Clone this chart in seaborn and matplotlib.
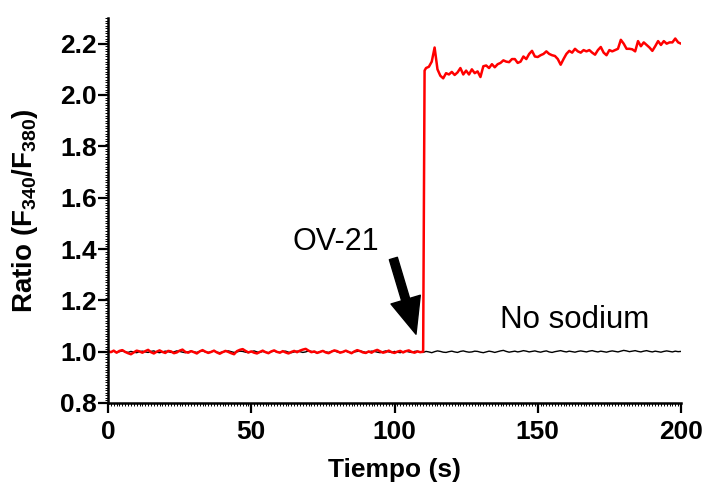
import numpy as np
import pandas as pd
import matplotlib
matplotlib.use("Agg")
import matplotlib.pyplot as plt
from matplotlib.ticker import MultipleLocator
import seaborn as sns

# ---------------- data ----------------
red_base = [
    1.002, 0.998, 1.004, 0.996, 1.003, 1.006, 0.999, 0.994, 0.990, 0.997,
    1.004, 1.001, 0.996, 1.002, 1.007, 0.998, 0.993, 1.000, 1.005, 0.999,
    0.995, 1.003, 1.001, 0.994, 0.997, 1.004, 1.008, 0.999, 0.996, 1.002,
    0.998, 0.993, 1.001, 1.006, 1.000, 0.995, 0.999, 1.004, 0.997, 0.992,
    0.998, 1.003, 0.999, 0.994, 0.990, 1.002, 1.007, 1.010, 1.003, 0.997,
    1.001, 0.996, 0.993, 0.999, 1.004, 0.998, 0.994, 1.001, 1.005, 0.999,
    0.996, 1.002, 0.997, 0.993, 0.999, 1.003, 0.998, 1.004, 1.008, 1.011,
    1.004, 0.998, 1.001, 0.995, 0.999, 1.003, 0.997, 0.994, 1.000, 1.005,
    1.002, 0.996, 0.999, 1.004, 0.999, 0.994, 1.001, 1.006, 1.002, 0.997,
    0.995, 1.001, 0.996, 1.003, 1.007, 1.001, 0.996, 0.999, 1.004, 0.998,
    0.995, 1.000, 1.003, 0.997, 1.002, 1.005, 0.999, 0.996, 1.001, 0.998,
    1.000,
]
red_jump_time = [110.5]
red_jump_value = [2.095]
red_high = [
    2.105, 2.110, 2.130, 2.185, 2.100, 2.075, 2.065, 2.085, 2.080, 2.090,
    2.078, 2.088, 2.105, 2.080, 2.095, 2.080, 2.100, 2.085, 2.092, 2.070,
    2.112, 2.115, 2.105, 2.120, 2.108, 2.120, 2.125, 2.135, 2.130, 2.128,
    2.140, 2.140, 2.125, 2.130, 2.150, 2.140, 2.160, 2.172, 2.150, 2.148,
    2.155, 2.160, 2.170, 2.160, 2.155, 2.152, 2.140, 2.118, 2.140, 2.160,
    2.172, 2.165, 2.180, 2.170, 2.165, 2.175, 2.170, 2.175, 2.165, 2.157,
    2.175, 2.187, 2.165, 2.155, 2.175, 2.170, 2.175, 2.180, 2.215, 2.200,
    2.180, 2.180, 2.178, 2.170, 2.210, 2.190, 2.205, 2.195, 2.185, 2.172,
    2.190, 2.210, 2.195, 2.210, 2.200, 2.205, 2.205, 2.220, 2.205, 2.200,
]
black_vals = [
    1.001, 0.999, 1.002, 0.998, 1.000, 1.003, 0.999, 0.997, 1.001, 0.998,
    0.996, 1.000, 1.002, 0.999, 0.997, 1.001, 1.003, 0.998, 0.996, 0.999,
    1.002, 1.000, 0.997, 0.999, 1.003, 1.001, 0.998, 0.996, 1.000, 1.002,
    0.999, 0.997, 1.001, 1.003, 0.999, 0.997, 1.000, 1.002, 0.998, 0.996,
    0.999, 1.001, 1.003, 1.000, 0.997, 0.999, 1.002, 1.001, 0.998, 0.996,
    1.000, 1.003, 0.999, 0.997, 1.001, 0.998, 0.996, 1.000, 1.002, 0.999,
    0.997, 1.001, 1.002, 0.998, 0.996, 0.999, 1.002, 1.000, 0.997, 0.999,
    1.003, 1.001, 0.998, 0.996, 1.000, 1.002, 0.999, 0.997, 1.001, 1.003,
    0.999, 0.997, 1.000, 1.002, 0.998, 0.996, 0.999, 1.001, 1.003, 1.000,
    0.997, 0.999, 1.002, 1.001, 0.998, 0.996, 1.000, 1.003, 0.999, 0.997,
    1.001, 0.998, 0.996, 1.000, 1.002, 0.999, 0.997, 1.001, 1.002, 0.998,
    0.997, 1.001, 0.999, 0.996, 1.000, 1.003, 1.001, 0.998, 0.997, 1.000,
    1.002, 0.999, 0.997, 1.001, 1.003, 1.000, 0.998, 0.999, 1.002, 1.001,
    0.998, 0.996, 0.999, 1.002, 1.000, 0.997, 1.000, 1.003, 1.005, 1.001,
    0.998, 1.000, 1.002, 0.999, 1.001, 1.004, 1.002, 0.999, 1.001, 1.003,
    1.000, 0.998, 1.001, 1.003, 0.999, 0.997, 1.000, 1.002, 1.004, 1.001,
    0.999, 1.002, 1.000, 0.998, 1.001, 1.003, 1.001, 0.999, 1.002, 1.004,
    1.001, 0.999, 1.002, 1.000, 0.998, 1.001, 1.003, 1.001, 0.999, 1.002,
    1.005, 1.003, 1.000, 1.002, 1.004, 1.001, 0.999, 1.002, 1.004, 1.001,
    0.999, 1.002, 1.000, 0.998, 1.001, 1.003, 1.001, 0.999, 1.002, 1.000,
    1.001,
]
x_ticks = [0, 50, 100, 150, 200]
y_ticks = [0.8, 1.0, 1.2, 1.4, 1.6, 1.8, 2.0, 2.2]
x_label = "Tiempo (s)"
y_label = r"Ratio (F$_{340}$/F$_{380}$)"
label_ov = "OV-21"
label_ns = "No sodium"

# ---------------- frames ----------------
black_time = list(range(len(black_vals)))
red_time = list(range(len(red_base))) + red_jump_time + \
    list(range(len(red_base), len(red_base) + len(red_high)))
red_vals = red_base + red_jump_value + red_high
df_black = pd.DataFrame({"t": black_time, "ratio": black_vals})
df_red = pd.DataFrame({"t": red_time, "ratio": red_vals})

# ---------------- style ----------------
sns.set_style("ticks")
plt.rcParams["font.family"] = ["Liberation Sans", "DejaVu Sans"]
plt.rcParams["mathtext.fontset"] = "custom"
plt.rcParams["mathtext.rm"] = "Liberation Sans:bold"
plt.rcParams["mathtext.bf"] = "Liberation Sans:bold"
plt.rcParams["mathtext.default"] = "bf"
plt.rcParams["text.color"] = "black"
plt.rcParams["axes.labelcolor"] = "black"
plt.rcParams["xtick.color"] = "black"
plt.rcParams["ytick.color"] = "black"
plt.rcParams["xtick.labelcolor"] = "black"
plt.rcParams["ytick.labelcolor"] = "black"

fig = plt.figure(figsize=(7.05, 4.84), dpi=100)
ax = fig.add_axes([108 / 705, (484 - 403) / 484, (681 - 108) / 705, (403 - 18) / 484])

sns.lineplot(data=df_black, x="t", y="ratio", color="black", lw=1.0, sort=False, ax=ax)
sns.lineplot(data=df_red, x="t", y="ratio", color="#ff0000", lw=1.8, sort=False, ax=ax)

ax.set_xlim(0, 200)
ax.set_ylim(0.8, 2.3)
ax.set_xticks(x_ticks)
ax.set_yticks(y_ticks)
ax.set_yticklabels([f"{v:.1f}" for v in y_ticks])
ax.xaxis.set_minor_locator(MultipleLocator(1))
ax.yaxis.set_minor_locator(MultipleLocator(0.01))
ax.tick_params(axis="both", which="major", direction="out", length=7, width=1.6,
               labelsize=19, color="black", labelcolor="black")
ax.tick_params(axis="y", which="major", pad=1)
ax.tick_params(axis="x", which="major", pad=5)
ax.tick_params(axis="both", which="minor", direction="out", length=2, width=0.7, color="black")
for lab in ax.get_xticklabels() + ax.get_yticklabels():
    lab.set_fontweight("bold")

for s in ["top", "right"]:
    ax.spines[s].set_visible(False)
for s in ["left", "bottom"]:
    ax.spines[s].set_linewidth(1.8)
    ax.spines[s].set_color("black")

ax.set_xlabel(x_label, fontsize=19, fontweight="bold", color="black")
ax.set_ylabel(y_label, fontsize=20, fontweight="bold", color="black")
ax.xaxis.set_label_coords(0.5, (403 - 458) / 385)
ax.yaxis.set_label_coords((40 - 108) / 573, 0.5)

ax.text(64.5, 1.426, label_ov, fontsize=22, va="center", ha="left", color="black")
ax.text(136.8, 1.123, label_ns, fontsize=22.5, va="center", ha="left", color="black")
ax.annotate("", xy=(107.5, 1.068), xytext=(99.6, 1.363),
            arrowprops=dict(arrowstyle="simple,head_length=1.3,head_width=1.1,tail_width=0.3",
                            mutation_scale=20, color="black", shrinkA=0, shrinkB=0))

fig.savefig("out.png", dpi=100)
